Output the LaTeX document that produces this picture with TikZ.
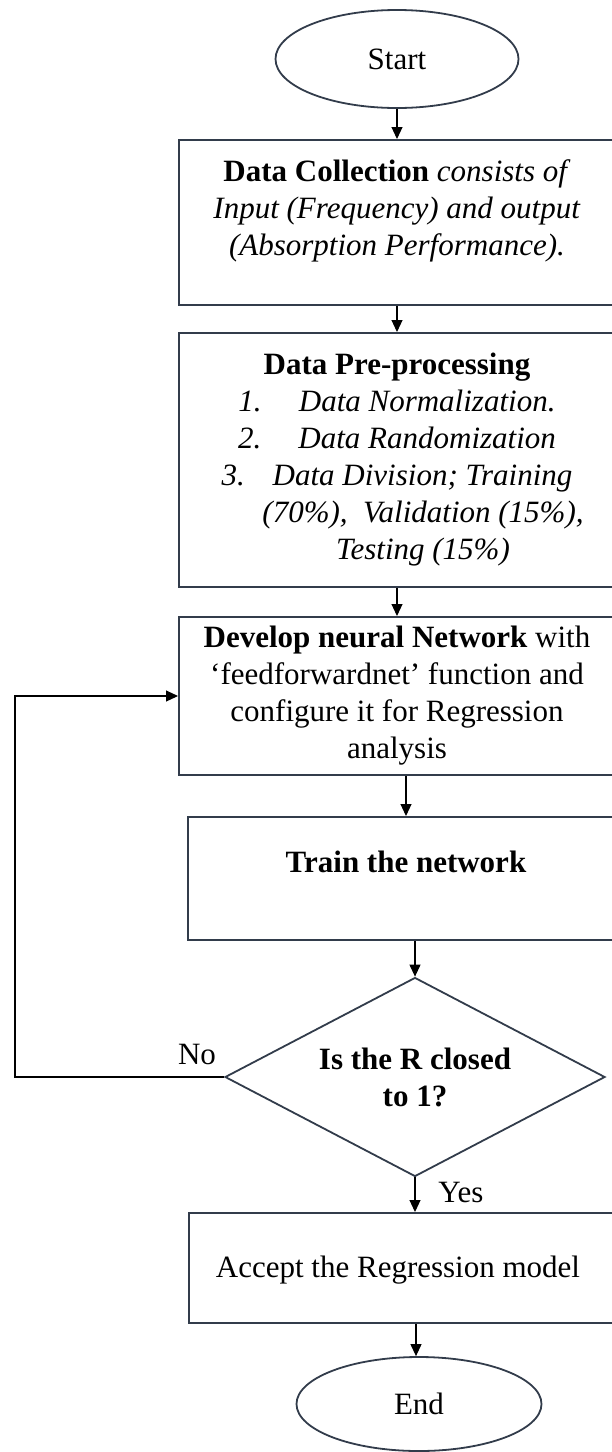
\documentclass[tikz,border=0pt]{standalone}
\usepackage{fontspec}
\setmainfont{Liberation Serif}
\usetikzlibrary{shapes.geometric,arrows.meta}

\definecolor{boxline}{RGB}{50,60,75}

\tikzset{
  procbox/.style={draw=boxline, line width=1pt, rectangle, inner sep=0pt},
  termnode/.style={draw=boxline, line width=0.9pt, ellipse, inner sep=0pt,
    font=\fontsize{15.5}{18.5}\selectfont},
  decnode/.style={draw=boxline, line width=0.9pt, diamond, aspect=1.9, inner sep=0pt,
    minimum width=190pt, minimum height=99.5pt, align=center,
    font=\fontsize{15.5}{18.5}\selectfont\bfseries},
  boxtext/.style={align=center, font=\fontsize{15.5}{18.5}\selectfont},
  flow/.style={-{Triangle[width=5.5pt,length=6pt]}, line width=0.55pt},
}

\begin{document}
\begin{tikzpicture}[x=0.5pt, y=-0.5pt]
    \useasboundingbox (0,0) rectangle (611,1452);

    % Start
    \node[termnode, minimum width=121.5pt, minimum height=49pt] (start) at (397,59) {Start};

    % Data collection
    \node[procbox, minimum width=218pt, minimum height=82.5pt] (dc) at (397,222.5) {};
    \node[boxtext] (dctext) at (397,211) {\textbf{Data Collection} \textit{consists of}\\
        \textit{Input (Frequency) and output}\\ \textit{(Absorption Performance).}};

    % Pre-processing
    \node[procbox, boxtext, minimum width=218pt, minimum height=127pt] (pp) at (397,460) {%
        \textbf{Data Pre-processing}\\
        \textit{1.}\hspace{1.2em}\textit{Data Normalization.}\\
        \textit{2.}\hspace{1.2em}\textit{Data Randomization}\\
        \textit{3.}\hspace{0.9em}\textit{Data Division; Training}\\
        \hspace*{26pt}\textit{(70\%),\ \ Validation (15\%),}\\
        \hspace*{26pt}\textit{Testing (15\%)}};

    % Network set-up
    \node[procbox, boxtext, minimum width=218pt, minimum height=79pt] (dev) at (397,696) {%
        \textbf{Develop neural Network} with\\
        `feedforwardnet' function and\\
        configure it for Regression\\
        analysis};

    % Training
    \node[procbox, minimum width=218pt, minimum height=61.5pt] (train) at (406,878.5) {};
    \node[boxtext] (traintext) at (406,862) {\textbf{Train the network}};

    % Decision
    \node[decnode] (dec) at (415,1077) {Is the R closed\\ to 1?};
    \node[boxtext] (nolabel) at (197,1054) {No};
    \node[boxtext] (yeslabel) at (461,1192) {Yes};

    % Accept
    \node[procbox, minimum width=227pt, minimum height=55pt] (accept) at (416,1268) {};
    \node[boxtext] (accepttext) at (398,1270) {Accept the Regression model};

    % End
    \node[termnode, minimum width=122.5pt, minimum height=47pt] (stop) at (419,1404) {End};

    % Connectors
    \draw[flow] (start) -- (dc);
    \draw[flow] (dc) -- (pp);
    \draw[flow] (pp) -- (dev);
    \draw[flow] (train.north |- dev.south) -- (train.north);
    \draw[flow] (dec.north |- train.south) -- (dec.north);
    \draw[flow] (dec.south) -- (dec.south |- accept.north);
    \draw[flow] (accept.south) -- (accept.south |- stop.north);

    % Loop back
    \coordinate (loopcorner) at (15,1077);
    \draw[flow] (dec.west) -- (loopcorner) |- (dev.west);
\end{tikzpicture}
\end{document}
